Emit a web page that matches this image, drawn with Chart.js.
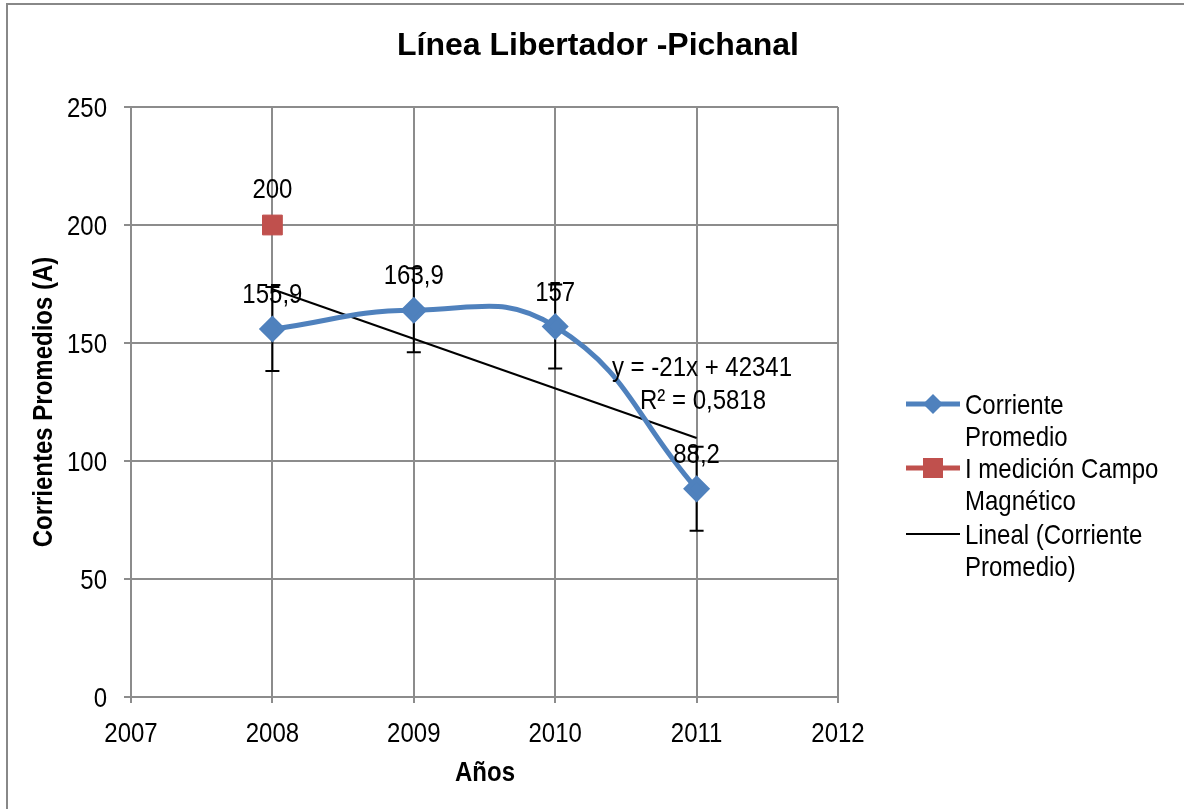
<!DOCTYPE html>
<html>
<head>
<meta charset="utf-8">
<script src="https://cdn.jsdelivr.net/npm/chart.js@4.4.0/dist/chart.umd.min.js"></script>
<style>
  body { margin: 0; background: #fff; }
  #wrap { width: 1184px; height: 809px; position: relative; }
</style>
</head>
<body>
<div id="wrap"><canvas id="grafico"></canvas></div>
<script>
// datos de la linea
const anos = [2008, 2009, 2010, 2011];
const corrientePromedio = [155.9, 163.9, 157, 88.2];
const errorCorriente = [17.8, 17.8, 17.8, 17.8];
const anosCampo = [2008];
const medicionCampo = [200];
const ticksX = [2007, 2008, 2009, 2010, 2011, 2012];
const ticksY = [0, 50, 100, 150, 200, 250];

const fuente = '"Liberation Sans", Arial, sans-serif';
const azul = "#4F81BD";
const rojo = "#C0504D";
const gris = "#8c8c8c";
const estira = 1.17; // alto del texto

// ajuste lineal (minimos cuadrados) de la corriente promedio
function ajusteLineal(xs, ys) {
  const n = xs.length;
  const mx = xs.reduce((a, b) => a + b, 0) / n;
  const my = ys.reduce((a, b) => a + b, 0) / n;
  let sxy = 0, sxx = 0;
  for (let i = 0; i < n; i++) {
    sxy += (xs[i] - mx) * (ys[i] - my);
    sxx += (xs[i] - mx) * (xs[i] - mx);
  }
  const m = sxy / sxx;
  return { m: m, b: my - m * mx };
}
const ajuste = ajusteLineal(anos, corrientePromedio);
const lineal = [anos[0], anos[anos.length - 1]].map((x) => ({ x: x, y: ajuste.m * x + ajuste.b }));

const coma = (v) => String(v).replace(".", ",");

// texto centrado en (x, y) sobre la altura de las mayusculas
function texto(ctx, t, x, y, size, op) {
  op = op || {};
  ctx.save();
  ctx.translate(x, y);
  if (op.rot) ctx.rotate(op.rot);
  ctx.scale(1, op.sy || estira);
  ctx.font = (op.bold ? "bold " : "") + size + "px " + fuente;
  ctx.fillStyle = "#000";
  ctx.textAlign = op.align || "center";
  ctx.textBaseline = "alphabetic";
  ctx.fillText(t, 0, 0.358 * size);
  ctx.restore();
}

const extras = {
  id: "extras",
  beforeDraw(chart) {
    const ctx = chart.ctx;
    ctx.save();
    ctx.fillStyle = "#fff";
    ctx.fillRect(0, 0, chart.width, chart.height);
    ctx.strokeStyle = "#888";
    ctx.lineWidth = 2;
    ctx.strokeRect(7, 4, chart.width + 20, chart.height + 20);
    ctx.restore();
  },
  beforeDatasetsDraw(chart) {
    // barras de error
    const ctx = chart.ctx;
    const xs = chart.scales.x, ys = chart.scales.y;
    ctx.save();
    ctx.strokeStyle = "#000";
    ctx.lineWidth = 2;
    anos.forEach((a, i) => {
      const x = xs.getPixelForValue(a);
      const y1 = ys.getPixelForValue(corrientePromedio[i] + errorCorriente[i]);
      const y2 = ys.getPixelForValue(corrientePromedio[i] - errorCorriente[i]);
      ctx.beginPath();
      ctx.moveTo(x, y1); ctx.lineTo(x, y2);
      ctx.moveTo(x - 7, y1); ctx.lineTo(x + 7, y1);
      ctx.moveTo(x - 7, y2); ctx.lineTo(x + 7, y2);
      ctx.stroke();
    });
    ctx.restore();
  },
  afterDatasetsDraw(chart) {
    const ctx = chart.ctx;
    const xs = chart.scales.x, ys = chart.scales.y;
    anos.forEach((a, i) => {
      texto(ctx, coma(corrientePromedio[i]), xs.getPixelForValue(a), ys.getPixelForValue(corrientePromedio[i]) - 36, 24);
    });
    anosCampo.forEach((a, i) => {
      texto(ctx, coma(medicionCampo[i]), xs.getPixelForValue(a), ys.getPixelForValue(medicionCampo[i]) - 37, 24);
    });
    // ecuacion de la tendencia
    texto(ctx, "y = " + Math.round(ajuste.m) + "x + " + Math.round(ajuste.b), 702, 366, 24);
    texto(ctx, "R² = 0,5818", 703, 399, 24);
  },
  afterDraw(chart) {
    const ctx = chart.ctx;
    const xs = chart.scales.x, ys = chart.scales.y;

    // etiquetas de los ejes
    xs.ticks.forEach((t) => texto(ctx, String(t.value), xs.getPixelForValue(t.value), 732, 24));
    ys.ticks.forEach((t) => texto(ctx, String(t.value), 107, ys.getPixelForValue(t.value), 24, { align: "right" }));

    texto(ctx, "Línea Libertador -Pichanal", 598, 44, 32, { bold: true, sy: 1 });
    texto(ctx, "Años", 485, 771, 24, { bold: true });
    texto(ctx, "Corrientes Promedios (A)", 42, 402, 24, { bold: true, rot: -Math.PI / 2 });

    // leyenda
    const items = [
      { texto: ["Corriente", "Promedio"], color: azul, ancho: 5, marca: "rombo", y: 404 },
      { texto: ["I medición Campo", "Magnético"], color: rojo, ancho: 5, marca: "cuadro", y: 468 },
      { texto: ["Lineal (Corriente", "Promedio)"], color: "#000", ancho: 2, marca: null, y: 534 },
    ];
    items.forEach((it) => {
      ctx.save();
      ctx.strokeStyle = it.color;
      ctx.lineWidth = it.ancho;
      ctx.beginPath();
      ctx.moveTo(906, it.y); ctx.lineTo(960, it.y);
      ctx.stroke();
      ctx.fillStyle = it.color;
      if (it.marca == "rombo") {
        ctx.beginPath();
        ctx.moveTo(933, it.y - 10); ctx.lineTo(943, it.y);
        ctx.lineTo(933, it.y + 10); ctx.lineTo(923, it.y);
        ctx.closePath(); ctx.fill();
      } else if (it.marca == "cuadro") {
        ctx.fillRect(923, it.y - 10, 20, 20);
      }
      ctx.restore();
      it.texto.forEach((t, k) => texto(ctx, t, 965, it.y + k * 32, 24, { align: "left" }));
    });
  },
};

const config = {
  type: "scatter",
  data: {
    datasets: [
      {
        label: "Corriente Promedio",
        data: anos.map((a, i) => ({ x: a, y: corrientePromedio[i] })),
        showLine: true,
        tension: 0.45,
        borderColor: azul,
        backgroundColor: azul,
        borderWidth: 5,
        pointStyle: "rectRot",
        pointRadius: 10,
        pointHoverRadius: 10,
      },
      {
        label: "I medición Campo Magnético",
        data: anosCampo.map((a, i) => ({ x: a, y: medicionCampo[i] })),
        borderColor: rojo,
        backgroundColor: rojo,
        pointStyle: "rect",
        pointRadius: 14,
        pointHoverRadius: 14,
      },
      {
        label: "Lineal (Corriente Promedio)",
        data: lineal,
        showLine: true,
        borderColor: "#000",
        borderWidth: 2,
        pointRadius: 0,
        pointHoverRadius: 0,
      },
    ],
  },
  options: {
    responsive: true,
    maintainAspectRatio: false,
    animation: false,
    events: [],
    layout: { padding: { top: 107, right: 346, bottom: 0, left: 0 } },
    plugins: { legend: { display: false }, title: { display: false }, tooltip: { enabled: false } },
    scales: {
      x: {
        type: "linear",
        min: ticksX[0],
        max: ticksX[ticksX.length - 1],
        afterBuildTicks: (s) => { s.ticks = ticksX.map((v) => ({ value: v })); },
        afterFit: (s) => { s.height = 112; },
        ticks: { display: false },
        grid: { color: gris, lineWidth: 2, tickLength: 6 },
        border: { color: gris, width: 2 },
      },
      y: {
        min: ticksY[0],
        max: ticksY[ticksY.length - 1],
        afterBuildTicks: (s) => { s.ticks = ticksY.map((v) => ({ value: v })); },
        afterFit: (s) => { s.width = 131; },
        ticks: { display: false },
        grid: { color: gris, lineWidth: 2, tickLength: 7 },
        border: { color: gris, width: 2 },
      },
    },
  },
  plugins: [extras],
};

new Chart(document.getElementById("grafico"), config);
</script>
</body>
</html>
